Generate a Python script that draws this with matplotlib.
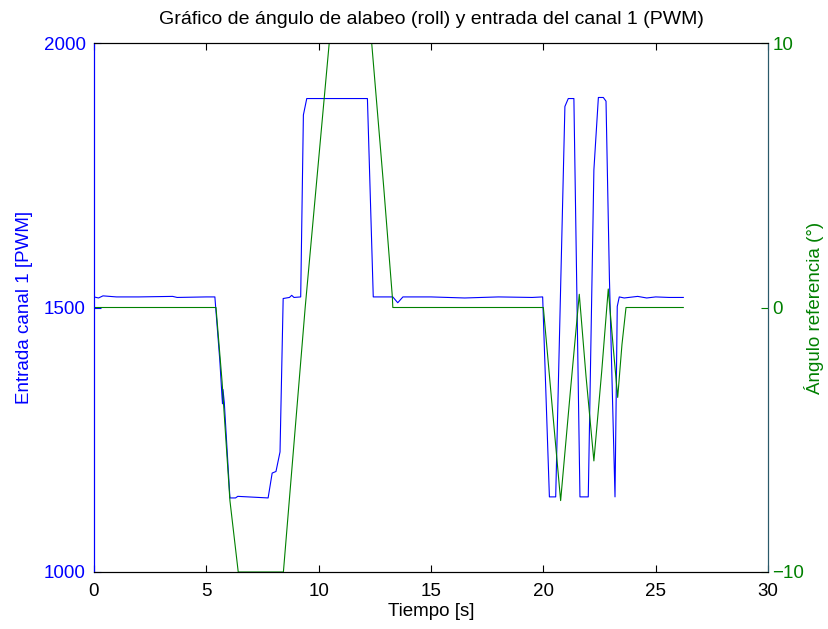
import matplotlib.pyplot as plt
import numpy as np

plt.rc('font', family='Liberation Sans')

# Entrada canal 1 (PWM), breakpoints
t_pwm = [0.0, 0.2, 0.4, 1.0, 2.0, 3.5, 3.7, 5.0, 5.38, 5.6, 5.70, 5.72, 5.74, 5.8,
         6.05, 6.3, 6.4, 7.75, 7.93, 8.1, 8.28, 8.42, 8.7, 8.8, 8.9, 9.2, 9.32,
         9.47, 12.17, 12.43, 13.0, 13.3, 13.52, 13.75, 15.0, 16.5, 18.0, 19.5,
         19.97, 20.27, 20.55, 20.96, 21.11, 21.36, 21.63, 22.0, 22.25, 22.45,
         22.67, 22.79, 22.94, 23.19, 23.29, 23.38, 23.6, 24.2, 24.6, 25.0, 25.6,
         26.23]
pwm = [1520, 1518, 1522, 1520, 1520, 1521, 1519, 1520, 1520, 1400, 1330, 1318,
       1345, 1320, 1140, 1140, 1143, 1140, 1187, 1190, 1227, 1517, 1519, 1523,
       1519, 1520, 1864, 1895, 1895, 1520, 1520, 1520, 1509, 1520, 1520, 1518,
       1520, 1519, 1520, 1142, 1142, 1880, 1895, 1895, 1142, 1142, 1760, 1897,
       1897, 1890, 1558, 1142, 1502, 1520, 1518, 1521, 1518, 1520, 1519, 1519]

# Angulo referencia (grados)
t_ang = [0.0, 5.43, 5.7, 6.05, 6.42, 8.43, 9.4, 10.47, 12.36, 12.9, 13.28,
         13.3, 20.0, 20.4, 20.77, 21.2, 21.6, 21.9, 22.25, 22.6, 22.89, 23.1,
         23.31, 23.5, 23.68, 26.23]
ang = [0, 0, -2.8, -7.3, -10, -10, 0, 10, 10, 4.5, 0.4, 0, 0, -3.8, -7.3, -3.2,
       0.5, -2.6, -5.8, -2.4, 0.7, -1.4, -3.4, -1.4, 0, 0]

blue = '#0000ff'
green = '#008000'

fig = plt.figure(figsize=(8.29, 6.29), dpi=100)
ax1 = fig.add_axes([94/829, 1 - 572/629, (768-94)/829, (572-43)/629])
ax2 = ax1.twinx()

ax1.plot(t_pwm, pwm, color=blue, linewidth=0.8)
ax2.plot(t_ang, ang, color=green, linewidth=0.8)

ax1.set_xlim(0, 30)
ax1.set_ylim(1000, 2000)
ax2.set_ylim(-10, 10)
ax1.set_xticks(np.arange(0, 31, 5))
ax1.set_yticks([1000, 1500, 2000])
ax2.set_yticks([-10, 0, 10])

ax1.tick_params(axis='x', direction='in', top=True, labelsize=13.5, length=5, pad=8)
ax1.tick_params(axis='y', direction='in', colors=blue, labelsize=13.5, length=5, pad=6)
ax2.tick_params(axis='y', direction='in', colors=green, labelsize=13.5, length=5, pad=3)

for a in (ax1, ax2):
    a.spines['top'].set_color('black')
    a.spines['bottom'].set_color('black')
ax1.spines['left'].set_color(blue)
ax2.spines['left'].set_color(blue)
ax1.spines['right'].set_color('#2a5a6a')
ax2.spines['right'].set_color('#2a5a6a')

ax1.set_xlabel('Tiempo [s]', fontsize=13.5, labelpad=2)
ax1.set_ylabel('Entrada canal 1 [PWM]', fontsize=13.5, color=blue, labelpad=8)
ax2.set_ylabel('Ángulo referencia (°)', fontsize=13.5, color=green, labelpad=0)
ax1.set_title('Gráfico de ángulo de alabeo (roll) y entrada del canal 1 (PWM)',
              fontsize=14, pad=14)

fig.savefig('out.png', dpi=100)
